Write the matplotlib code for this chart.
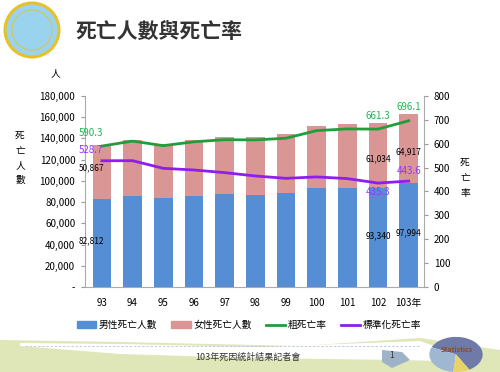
import matplotlib
matplotlib.use("Agg")
import matplotlib.pyplot as plt
from matplotlib.patches import Ellipse, Polygon
from matplotlib.lines import Line2D

plt.rcParams["font.family"] = ["Noto Sans CJK TC", "DejaVu Sans"]

# data (ROC years 93-103)
years = ["93", "94", "95", "96", "97", "98", "99", "100", "101", "102", "103年"]
male = [82812, 86000, 84000, 85500, 87300, 87000, 88200, 93300, 93400, 93340, 97994]
female = [50867, 52500, 51000, 53000, 54100, 54400, 55700, 58400, 59900, 61034, 64917]
crude = [590.3, 611, 592, 608, 617, 616, 623, 655, 662, 661.3, 696.1]
std = [528.7, 529, 497, 490, 479, 465, 455, 461, 454, 435.3, 443.6]

C_MALE, C_FEM = "#558ed5", "#d99694"
C_CRUDE, C_STD = "#1f9e3a", "#8f1cf0"
C_CRUDE_T, C_STD_T = "#22b455", "#9933ff"

W, H = 500, 372
fig = plt.figure(figsize=(5, 3.72), dpi=100)


def px(xp, yp):
    return (xp / W, 1 - yp / H)


# --- header: logo + title
fig.patches.append(Ellipse(px(32, 30), 54 / W, 54 / H, transform=fig.transFigure,
                           fc="#9ad3ee", ec="#e6c12a", lw=2.2))
fig.patches.append(Ellipse(px(32, 30), 40 / W, 40 / H, transform=fig.transFigure,
                           fc="none", ec="#e6c12a", lw=0.6))
fig.text(*px(75, 31), "死亡人數與死亡率", fontsize=15, fontweight="bold",
         color="#333333", va="center", ha="left")

# --- footer decoration
band = [px(0, 340), px(120, 342), px(300, 346), px(420, 338), px(500, 350),
        px(500, 372), px(0, 372)]
fig.patches.append(Polygon(band, closed=True, transform=fig.transFigure,
                           fc="#dfe6b8", ec="none", zorder=0))
white = [px(20, 343), px(120, 344), px(260, 347), px(420, 341), px(480, 362),
         px(400, 360), px(250, 358), px(120, 354), px(20, 346)]
fig.patches.append(Polygon(white, closed=True, transform=fig.transFigure,
                           fc="white", ec="none", zorder=0))
fig.add_artist(Line2D([25 / W, 420 / W], [1 - 346 / H] * 2, transform=fig.transFigure,
                      color="#b8c4d8", lw=0.6, ls=(0, (3, 2))))
fig.text(*px(248, 357), "103年死因統計結果記者會", fontsize=6.5, color="#333333",
         ha="center", va="center")

# statistics pie (small inset axes)
pax = fig.add_axes([428 / W, 0, 56 / W, 36 / H])
pax.set_zorder(2)
pax.pie([60, 30, 10], colors=["#6f7aa8", "#9fb7d0", "#e6d46a"], startangle=-60,
        center=(0, -0.3), radius=1.0)
pax.set_xlim(-1.05, 1.05)
pax.set_ylim(-1.3, 0.75)
pax.set_aspect("auto")
pax.axis("off")
fig.text(*px(457, 350), "Statistics", fontsize=5, color="#8a4a2a",
         fontweight="bold", ha="center", va="center", zorder=3)
fig.patches.append(Polygon([px(382, 350), px(402, 352), px(410, 360), px(392, 368),
                            px(382, 362)], closed=True, transform=fig.transFigure,
                           fc="#9fb3c8", ec="none"))
fig.text(*px(392, 356), "1", fontsize=6, color="#333333", ha="center", va="center")

# --- chart
ax = fig.add_axes([0.17, 0.2285, 0.678, 0.5135])
x = list(range(len(years)))
ax.bar(x, male, width=0.61, color=C_MALE, zorder=2)
ax.bar(x, female, width=0.61, bottom=male, color=C_FEM, zorder=2)
ax.set_xlim(-0.55, 10.5)
ax.set_ylim(0, 180000)
ax.set_yticks(range(0, 180001, 20000))
ax.set_yticklabels(["-"] + [f"{v:,}" for v in range(20000, 180001, 20000)])
ax.set_xticks(x)
ax.set_xticklabels(years)
ax.tick_params(labelsize=7, length=3, color="#999999", pad=4)
ax.tick_params(axis="x", length=0, pad=8)
for s in ["top", "right"]:
    ax.spines[s].set_visible(False)
for s in ["left", "bottom"]:
    ax.spines[s].set_color("#aaaaaa")

ax2 = ax.twinx()
ax2.plot(x, crude, color=C_CRUDE, lw=2, zorder=3)
ax2.plot(x, std, color=C_STD, lw=2, zorder=3)
ax2.set_ylim(0, 800)
ax2.set_yticks(range(0, 801, 100))
ax2.tick_params(labelsize=7, length=3, color="#999999", pad=4)
for s in ["top", "left", "bottom"]:
    ax2.spines[s].set_visible(False)
ax2.spines["right"].set_color("#aaaaaa")

# data labels
for i in [0, 9, 10]:
    dx = -0.35 if i == 0 else 0
    ax2.annotate(f"{crude[i]:.1f}", (i + dx, crude[i]), xytext=(0, 6), textcoords="offset points",
                 ha="center", va="bottom", fontsize=7, color=C_CRUDE_T)
    ax.annotate(f"{male[i]:,}", (i + dx, male[i] * 0.52), ha="center", va="center", fontsize=6,
                color="black")
ax2.annotate(f"{std[0]:.1f}", (-0.35, std[0]), xytext=(0, 4), textcoords="offset points",
             ha="center", va="bottom", fontsize=7, color=C_STD_T)
ax.annotate(f"{female[0]:,}", (-0.35, 112500), ha="center", va="center", fontsize=6)
ax.annotate(f"{female[9]:,}", (9, 121000), ha="center", va="center", fontsize=6)
ax.annotate(f"{female[10]:,}", (10, 127000), ha="center", va="center", fontsize=6)
ax2.annotate(f"{std[9]:.1f}", (9, std[9]), xytext=(0, -3), textcoords="offset points",
             ha="center", va="top", fontsize=7, color=C_STD_T)
ax2.annotate(f"{std[10]:.1f}", (10, std[10]), xytext=(0, 4), textcoords="offset points",
             ha="center", va="bottom", fontsize=7, color=C_STD_T)

# axis titles
fig.text(*px(55, 73), "人", fontsize=7, ha="center", va="center")
fig.text(*px(20, 158), "死\n亡\n人\n數", fontsize=7, ha="center", va="center",
         linespacing=1.6)
fig.text(*px(465, 178), "死\n亡\n率", fontsize=7, ha="center", va="center",
         linespacing=1.6)

handles = [plt.Rectangle((0, 0), 1, 1, color=C_MALE), plt.Rectangle((0, 0), 1, 1, color=C_FEM),
           Line2D([], [], color=C_CRUDE, lw=2), Line2D([], [], color=C_STD, lw=2)]
labels = ["男性死亡人數", "女性死亡人數", "粗死亡率", "標準化死亡率"]
fig.legend(handles, labels, loc="center", bbox_to_anchor=(px(249, 325)), ncol=4,
           frameon=False, fontsize=7, handlelength=2.0, handleheight=0.6, columnspacing=1.4,
           handletextpad=0.3)

fig.savefig("out.png", dpi=100)
